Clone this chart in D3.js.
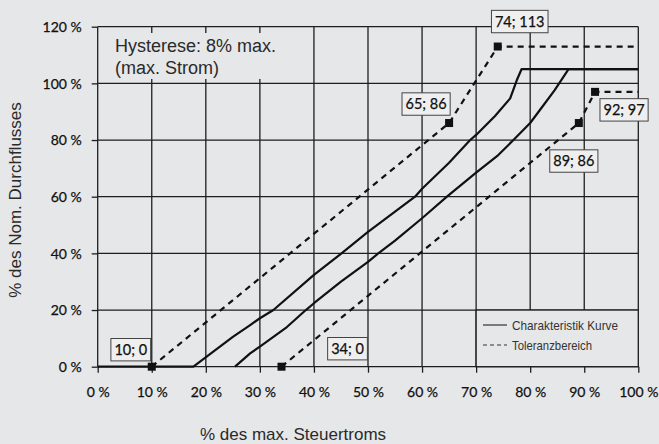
<!DOCTYPE html>
<html>
<head>
<meta charset="utf-8">
<script src="https://cdn.jsdelivr.net/npm/d3@7"></script>
<style>
  body { margin: 0; background: #e6e7e8; }
  svg { display: block; }
</style>
</head>
<body>
<svg id="chart"></svg>
<script>
// Werte
const xTicks = [0, 10, 20, 30, 40, 50, 60, 70, 80, 90, 100];
const yTicks = [0, 20, 40, 60, 80, 100, 120];

// Kennlinie (Hysterese) - linker und rechter Ast
const kennlinieAuf = [
  [0, 0], [17.7, 0], [25, 10.5], [28.2, 14.7], [30, 17.1], [32.5, 20], [40, 32.4],
  [45.1, 40], [50, 47.6], [58.7, 60], [60, 62.8], [65, 72], [68.9, 80], [70, 81.8],
  [73.5, 88.5], [76.3, 94.7], [77.5, 101], [78.4, 105], [100, 105]
];
const kennlinieAb = [
  [25.4, 0], [28.2, 4.7], [30, 7.1], [35, 14], [38.5, 20], [40, 22.4], [45, 30],
  [50, 37], [51.9, 40], [55, 44.5], [60, 52.4], [64.6, 60], [70, 68.5], [74.1, 74.7],
  [76.9, 80], [80, 86], [81.8, 90.6], [84.5, 97.5], [87.1, 105], [100, 105]
];

// Toleranzbereich
const toleranzOben = [[10, 0], [65, 86], [74, 113], [100, 113]];
const toleranzUnten = [[34, 0], [89, 86], [92, 97], [100, 97]];
const markerPunkte = [[10, 0], [34, 0], [65, 86], [74, 113], [89, 86], [92, 97]];
const markerTexte = ['10; 0', '34; 0', '65; 86', '74; 113', '89; 86', '92; 97'];

const W = 659, H = 444;
const svg = d3.select('#chart').attr('width', W).attr('height', H);

const x = d3.scaleLinear().domain([0, 100]).range([97.7, 638.3]);
const y = d3.scaleLinear().domain([0, 120]).range([366.7, 26.7]);

const ink = '#1e1e1e';
const tickFont = 'Lato, "Open Sans", sans-serif';
const textFont = '"Liberation Sans", Arial, sans-serif';

// gitter
const grid = svg.append('g').attr('stroke', ink).attr('stroke-width', 1.3);
grid.selectAll('.gx').data(xTicks).join('line')
  .attr('x1', d => x(d)).attr('x2', d => x(d))
  .attr('y1', y(0)).attr('y2', y(120));
grid.selectAll('.gy').data(yTicks).join('line')
  .attr('y1', d => y(d)).attr('y2', d => y(d))
  .attr('x1', x(0)).attr('x2', x(100));

// achsen
const xAxis = d3.axisBottom(x).tickValues(xTicks).tickSize(6).tickPadding(14)
  .tickFormat(d => d + ' %');
const yAxis = d3.axisLeft(y).tickValues(yTicks).tickSize(6).tickPadding(10)
  .tickFormat(d => d + ' %');

const gx = svg.append('g').attr('transform', `translate(0,${y(0)})`).call(xAxis);
const gy = svg.append('g').attr('transform', `translate(${x(0)},0)`).call(yAxis);
[gx, gy].forEach(g => {
  g.select('.domain').remove();
  g.selectAll('line').attr('stroke', ink).attr('stroke-width', 1.3);
  g.selectAll('text').attr('font-family', tickFont).attr('font-size', 14)
    .attr('fill', '#111').attr('stroke', '#111').attr('stroke-width', 0.25);
});
gy.selectAll('text').attr('dy', '0.35em');

// textfeld hysterese (deckt das gitter ab)
svg.append('rect')
  .attr('x', x(0) + 1.2).attr('y', 33).attr('width', 190).attr('height', 46)
  .attr('fill', '#e6e7e8');
svg.append('text')
  .attr('x', 115).attr('y', 52)
  .attr('font-family', textFont).attr('font-size', 18).attr('fill', '#2a2a2a')
  .text('Hysterese: 8% max.');
svg.append('text')
  .attr('x', 115).attr('y', 73.5)
  .attr('font-family', textFont).attr('font-size', 18).attr('fill', '#2a2a2a')
  .text('(max. Strom)');

// legende
svg.append('rect')
  .attr('x', x(70)).attr('y', y(20))
  .attr('width', x(100) - x(70)).attr('height', y(0) - y(20))
  .attr('fill', '#e6e7e8').attr('stroke', ink).attr('stroke-width', 1.3);

const legend = [
  { name: 'Charakteristik Kurve', dash: null, len: 106 },
  { name: 'Toleranzbereich', dash: '4,3', len: 80 }
];
legend.forEach((l, i) => {
  const ly = 325 + i * 20;
  svg.append('line')
    .attr('x1', 483).attr('x2', 507).attr('y1', ly).attr('y2', ly)
    .attr('stroke', '#333').attr('stroke-width', 1.2)
    .attr('stroke-dasharray', l.dash);
  svg.append('text')
    .attr('x', 512).attr('y', ly).attr('dy', '0.35em')
    .attr('font-family', '"Liberation Sans Narrow", "Liberation Sans", sans-serif')
    .attr('font-size', 13.5).attr('fill', '#333')
    .attr('textLength', l.len).attr('lengthAdjust', 'spacingAndGlyphs')
    .text(l.name);
});

// kurven
const line = d3.line().x(d => x(d[0])).y(d => y(d[1]));

[kennlinieAuf, kennlinieAb].forEach(k => {
  svg.append('path').datum(k)
    .attr('d', line).attr('fill', 'none')
    .attr('stroke', '#111').attr('stroke-width', 2.2)
    .attr('stroke-linejoin', 'round');
});
[toleranzOben, toleranzUnten].forEach(k => {
  svg.append('path').datum(k)
    .attr('d', line).attr('fill', 'none')
    .attr('stroke', '#111').attr('stroke-width', 2.2)
    .attr('stroke-dasharray', '6,5');
});

svg.selectAll('.marker').data(markerPunkte).join('rect')
  .attr('x', d => x(d[0]) - 4).attr('y', d => y(d[1]) - 4)
  .attr('width', 8).attr('height', 8).attr('fill', '#111');

// beschriftungen der eckpunkte (versatz des kastens zum punkt)
const versatz = {
  '10; 0': [-21, -17], '34; 0': [66, -18], '65; 86': [-23, -19],
  '74; 113': [22, -25], '89; 86': [-5, 38], '92; 97': [29, 18]
};
markerPunkte.forEach((p, i) => {
  const t = markerTexte[i];
  const [dx, dy] = versatz[t];
  const cx = x(p[0]) + dx, cy = y(p[1]) + dy;
  const g = svg.append('g');
  const txt = g.append('text')
    .attr('x', cx).attr('y', cy).attr('dy', '0.36em')
    .attr('text-anchor', 'middle')
    .attr('font-family', tickFont).attr('font-size', 14.5)
    .attr('fill', '#111').attr('stroke', '#111').attr('stroke-width', 0.25)
    .text(t);
  const bb = txt.node().getBBox();
  g.insert('rect', 'text')
    .attr('x', cx - bb.width / 2 - 3.5).attr('y', cy - 11.2)
    .attr('width', bb.width + 7).attr('height', 22.4)
    .attr('fill', '#efefef').attr('stroke', '#444').attr('stroke-width', 1);
});

// achsentitel
svg.append('text')
  .attr('x', 293).attr('y', 440)
  .attr('text-anchor', 'middle')
  .attr('font-family', textFont).attr('font-size', 17).attr('fill', '#2a2a2a')
  .text('% des max. Steuertroms');
svg.append('text')
  .attr('transform', 'translate(21,200) rotate(-90)')
  .attr('text-anchor', 'middle')
  .attr('font-family', textFont).attr('font-size', 17).attr('fill', '#2a2a2a')
  .text('% des Nom. Durchflusses');
</script>
</body>
</html>
